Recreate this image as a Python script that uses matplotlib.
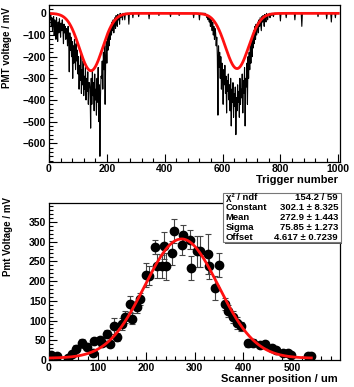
import numpy as np
import matplotlib
matplotlib.use("Agg")
import matplotlib.pyplot as plt
from matplotlib.patches import Rectangle
from matplotlib.ticker import MultipleLocator, FixedLocator

plt.rcParams['font.family'] = ['Liberation Sans', 'DejaVu Sans']
plt.rcParams['font.weight'] = 'bold'

# ---------------- top panel data (trigger step 2) ----------------
trig_step = 2
n_trig = 501  # triggers 0..1000
dip1_start = 0
dip1_vals = [0, -10, -30, -5, -60, -20, -80, -40, -15, -100, -30,
             -50, -120, -20, -70, -130, -40, -90, -25, -60, -110, -45, -80, -30, -70, -140, -50, -90, -60, -120, -70,
             -80, -150, -60, -120, -270, -90, -170, -110, -200, -130, -300, -150, -230, -120, -190, -260, -140, -220, -170, -280,
             -200, -350, -240, -310, -180, -370, -260, -330, -220, -380, -290, -350, -250, -400, -300, -360, -270, -420, -320, -320,
             -350, -530, -300, -420, -260, -380, -320, -450, -280, -400, -350, -470, -300, -410, -250, -500, -330, -660, -380, -290,
             -300, -220, -350, -180, -260, -150, -420, -200, -130, -230, -110, -170, -90, -150, -70, -120, -60, -100, -40, -80,
             -30, -90, -50, -20, -70, -10, -40, -60, -5, -30, -15, -50, 0, -20, -10, -5, -30, 0, -10]
dip2_start = 540
dip2_vals = [0, -10, -5, -20, -15, -30, -10, -40, -25, -60, -30, -50, -80, -40, -100, -60, -120, -70, -90, -150,
             -110, -200, -470, -150, -250, -180, -300, -200, -350, -230, -280, -420, -260, -330, -240, -370, -290, -460, -310, -360,
             -280, -400, -330, -450, -300, -520, -350, -410, -320, -480, -370, -430, -340, -560, -390, -450, -330, -410, -360, -480,
             -300, -420, -350, -390, -280, -460, -310, -370, -250, -520, -300, -340, -230, -420, -200, -300, -180, -260, -150, -230,
             -130, -200, -100, -160, -80, -140, -60, -120, -50, -100, -70, -40, -90, -30, -60, -20, -50, -80, -15, -40,
             -10, -30, -60, -5, -20, -40, 0, -15, -30, -5, -10, 0, -20, -5, 0, -10, 0, -5, -15, 0]
spike_trig = [262, 276, 290, 310, 346, 380, 420, 450, 500, 520, 800, 820, 850, 874, 930, 960, 976, 990]
spike_vals = [-30, -50, -20, -15, -25, -10, -15, -10, -20, -30, -35, -20, -30, -60, -15, -25, -40, -20]

# two-gaussian fit parameters (red curve)
fit1 = (-265.0, 145.0, 40.0)
fit2 = (-255.0, 650.0, 40.0)

# ---------------- bottom panel data ----------------
scan_pos = [5, 17, 40, 47, 55, 67, 79, 90, 93, 105, 110, 120, 125, 134, 141, 150, 156, 167, 171, 182,
            187, 199, 206, 218, 222, 232, 237, 240, 254, 257, 273, 275, 290, 293, 304, 311, 328, 330, 341, 349,
            362, 369, 379, 386, 396, 410, 420, 434, 444, 458, 468, 482, 492, 499, 534, 540]
pmt_volt = [12, 11, 4, 15, 29, 42, 34, 17, 49, 51, 44, 66, 41, 86, 58, 92, 110, 142, 105, 134,
            154, 216, 214, 286, 239, 237, 290, 237, 271, 327, 292, 316, 305, 233, 275, 275, 269, 239, 182, 241,
            141, 125, 110, 93, 85, 42, 44, 38, 41, 30, 25, 19, 17, 13, 10, 10]
pmt_err = [5, 5, 4, 6, 8, 12, 8, 6, 8, 8, 8, 10, 8, 20, 10, 15, 15, 20, 15, 15,
           15, 30, 25, 18, 30, 30, 35, 35, 30, 30, 25, 25, 25, 30, 40, 40, 50, 35, 30, 30,
           15, 15, 15, 15, 12, 8, 8, 8, 8, 8, 8, 6, 6, 5, 5, 5]
fit_const, fit_mean, fit_sigma, fit_offset = 302.1, 272.9, 75.85, 4.617
stat_labels = ["χ² / ndf", "Constant", "Mean", "Sigma", "Offset"]
stat_values = ["154.2 / 59", "302.1 ± 8.325", "272.9 ± 1.443", "75.85 ± 1.273", "4.617 ± 0.7239"]

# ---------------- figure ----------------
W, H = 354, 387
fig = plt.figure(figsize=(W / 100, H / 100), dpi=100)

def px_axes(l, t, r, b):
    return [l / W, 1 - b / H, (r - l) / W, (b - t) / H]

def style(ax):
    ax.tick_params(which='both', direction='in', top=False, right=False,
                   labelsize=7.5, pad=2, width=0.8)
    ax.tick_params(which='major', length=6)
    ax.tick_params(which='minor', length=3)
    for s in ax.spines.values():
        s.set_linewidth(0.9)
    for lab in ax.get_xticklabels() + ax.get_yticklabels():
        lab.set_fontweight('bold')

# top panel
ax1 = fig.add_axes(px_axes(49, 4.7, 340, 161.7))
trace = np.zeros(n_trig)
i1 = dip1_start // trig_step
trace[i1:i1 + len(dip1_vals)] = dip1_vals
i2 = dip2_start // trig_step
trace[i2:i2 + len(dip2_vals)] = dip2_vals
for t, v in zip(spike_trig, spike_vals):
    trace[t // trig_step] = v
trig = np.arange(n_trig) * trig_step
ax1.plot(trig, trace, color='black', lw=0.8)
tt = np.linspace(0, 1000, 1000)
fit_top = fit1[0] * np.exp(-0.5 * ((tt - fit1[1]) / fit1[2]) ** 2) + \
          fit2[0] * np.exp(-0.5 * ((tt - fit2[1]) / fit2[2]) ** 2)
ax1.plot(tt, fit_top, color='#ff1010', lw=2.0)
ax1.set_xlim(0, 1006)
ax1.set_ylim(-685, 40)
ax1.xaxis.set_major_locator(FixedLocator([0, 200, 400, 600, 800, 1000]))
ax1.xaxis.set_minor_locator(MultipleLocator(40))
ax1.yaxis.set_major_locator(FixedLocator([0, -100, -200, -300, -400, -500, -600]))
ax1.yaxis.set_minor_locator(MultipleLocator(20))
style(ax1)
fig.text(338 / W, 1 - 180 / H, "Trigger number", ha='right', va='center', fontsize=8, fontweight='bold')
fig.text(7.5 / W, 1 - 7 / H, "PMT voltage / mV", rotation=90, ha='center', va='top', fontsize=7, fontweight='bold')

# bottom panel
ax2 = fig.add_axes(px_axes(49, 203.3, 340, 360))
ax2.errorbar(scan_pos, pmt_volt, yerr=pmt_err, fmt='o', color='black', ms=6,
             ecolor='#444444', elinewidth=0.8, capsize=2, capthick=0.8, zorder=3)
xx = np.linspace(0, 540, 400)
ax2.plot(xx, fit_const * np.exp(-0.5 * ((xx - fit_mean) / fit_sigma) ** 2) + fit_offset,
         color='#ff1010', lw=2.0, zorder=4)
ax2.set_xlim(0, 599)
ax2.set_ylim(0, 397)
ax2.xaxis.set_major_locator(FixedLocator([0, 100, 200, 300, 400, 500]))
ax2.xaxis.set_minor_locator(MultipleLocator(20))
ax2.yaxis.set_major_locator(FixedLocator([0, 50, 100, 150, 200, 250, 300, 350]))
ax2.yaxis.set_minor_locator(MultipleLocator(10))
style(ax2)
fig.text(338 / W, 1 - 379 / H, "Scanner position / um", ha='right', va='center', fontsize=8, fontweight='bold')
fig.text(8 / W, 1 - 197 / H, "Pmt Voltage / mV", rotation=90, ha='center', va='top', fontsize=7, fontweight='bold')

# stats box
bl, bt, br, bb = 223, 193, 340.5, 242
fig.patches.append(Rectangle(((bl + 1.5) / W, 1 - (bb + 1.5) / H), (br - bl) / W, (bb - bt) / H,
                             transform=fig.transFigure, facecolor='#555555', edgecolor='none', zorder=10))
fig.patches.append(Rectangle((bl / W, 1 - bb / H), (br - bl) / W, (bb - bt) / H,
                             transform=fig.transFigure, facecolor='white', edgecolor='#777777', lw=0.8, zorder=11))
row_h = (bb - bt) / 5
for k, (lab, val) in enumerate(zip(stat_labels, stat_values)):
    yc = 1 - (bt + row_h * (k + 0.5)) / H
    fig.text((bl + 2.5) / W, yc, lab, ha='left', va='center', fontsize=6.8, fontweight='bold', zorder=12)
    fig.text((br - 2.5) / W, yc, val, ha='right', va='center', fontsize=6.8, fontweight='bold', zorder=12)

fig.savefig("out.png", dpi=100)
